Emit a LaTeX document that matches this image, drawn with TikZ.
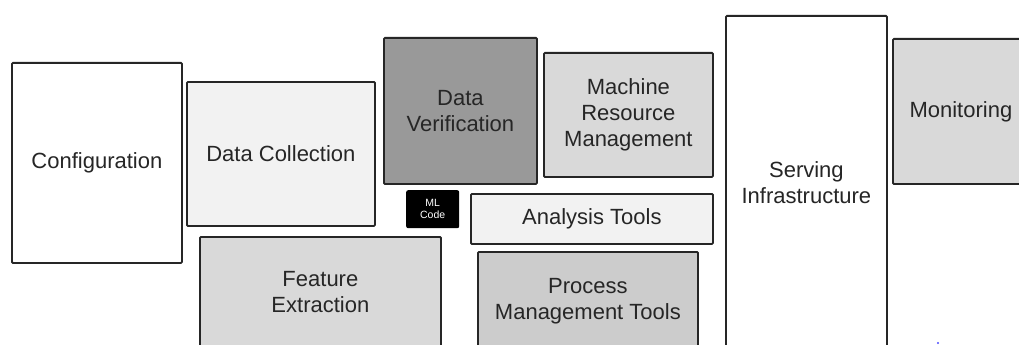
\documentclass[tikz,border=0pt]{standalone}
\usepackage{fontspec}
\setmainfont{Liberation Sans}
\definecolor{lightgrey}{HTML}{F2F2F2}
\definecolor{midgrey}{HTML}{D9D9D9}
\definecolor{grey}{HTML}{CCCCCC}
\definecolor{darkgrey}{HTML}{999999}
\begin{document}
\begin{tikzpicture}[x=1pt,y=-1pt,
	blk/.style={draw=black!85, line width=1.8pt, rounded corners=1pt, anchor=north west,
		inner sep=0pt, align=center, text=black!85, font=\fontsize{22}{26}\selectfont},
	mlcode/.style={fill=black, rounded corners=2pt, anchor=north west, inner sep=0pt,
		align=center, text=white, font=\fontsize{10.5}{12}\selectfont}
]

	\fill[white] (0,0) rectangle (1019,345);
	\clip (0,0) rectangle (1019,345);

	\node[blk, minimum width=170pt, minimum height=200pt] (config) at (11,62) {Configuration};
	\node[blk, fill=lightgrey, minimum width=188pt, minimum height=144pt] (collect) at (186,81) {Data Collection};
	\node[blk, fill=darkgrey, minimum width=153pt, minimum height=146pt] (verify) at (383,37) {Data\\Verification};
	\node[blk, fill=midgrey, minimum width=169pt, minimum height=124pt] (resource) at (543,52) {Machine\\Resource\\Management};
	\node[mlcode, minimum width=53pt, minimum height=38pt] (ml) at (406,190) {ML\\Code};
	\node[blk, fill=lightgrey, minimum width=242pt, minimum height=50pt] (analysis) at (470,193) {Analysis Tools};
	\node[blk, fill=midgrey, minimum width=241pt, minimum height=110pt] (feature) at (199,236) {Feature\\Extraction};
	\node[blk, fill=grey, minimum width=220pt, minimum height=98pt] (process) at (477,251) {Process\\Management Tools};
	\node[blk, minimum width=161pt, minimum height=334pt] (serving) at (725,15) {Serving\\Infrastructure};
	\node[blk, fill=midgrey, minimum width=136pt, minimum height=145pt] (monitor) at (892,38) {Monitoring};

	\fill[blue!70] (938,343) circle (1.2pt);

\end{tikzpicture}
\end{document}
